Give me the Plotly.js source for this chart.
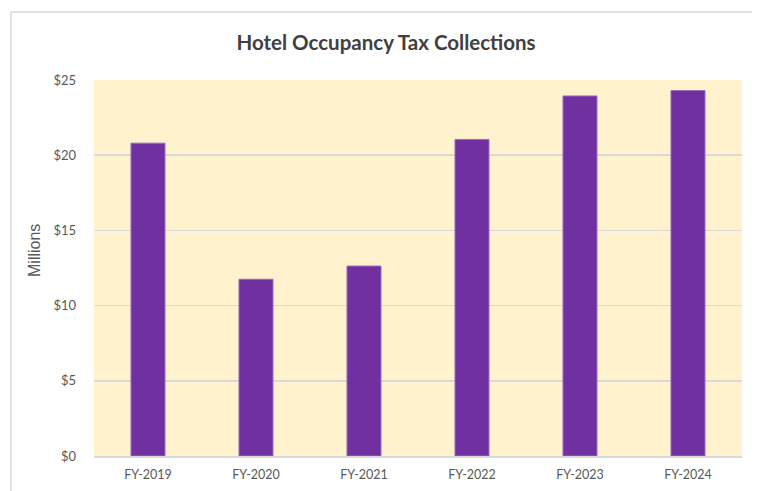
<!DOCTYPE html>
<html><head><meta charset="utf-8">
<script src="https://cdn.plot.ly/plotly-3.0.1.min.js"></script>
<style>html,body{margin:0;padding:0;background:#fff}#chart{width:757px;height:491px}</style>
</head><body><div id="chart"></div>
<script>
const categories = ["FY-2019","FY-2020","FY-2021","FY-2022","FY-2023","FY-2024"];
const collections = [20.8, 11.75, 12.63, 21.05, 23.94, 24.3];
const yTickVals = [0,5,10,15,20,25];
const yTickText = ["$0","$5","$10","$15","$20","$25"];

const L=94,R=15,T=80,B=35,W=757,H=491;
const pw=W-L-R, ph=H-T-B;
const px = x => (x-L)/pw, py = y => (H-B-y)/ph;

Plotly.newPlot('chart', [{
  type:'bar', x:categories, y:collections,
  marker:{color:'#7030A0', line:{color:'#9a6cc0', width:1}},
  hoverinfo:'x+y'
}], {
  width:W, height:H,
  margin:{l:L,r:R,t:T,b:B,pad:0},
  paper_bgcolor:'#ffffff', plot_bgcolor:'#FFF2CC',
  bargap:0.685,
  font:{family:'Lato, "Open Sans", sans-serif', color:'#595959', size:12.5},
  title:{text:'<b>Hotel Occupancy Tax Collections</b>', font:{family:'Lato, "Open Sans", sans-serif', size:20.5, color:'#404040'}, x:0.51, xanchor:'center', y:1-43/H, yanchor:'middle'},
  xaxis:{showgrid:false, showline:true, linecolor:'#d9d9d9', linewidth:1.5, ticks:'', tickfont:{size:12.5,color:'#595959'}, ticklabelstandoff:6},
  yaxis:{range:[0,25], tickvals:yTickVals, ticktext:yTickText, showgrid:true, gridcolor:'#d9d9d9', gridwidth:1.5, zeroline:false, showline:false, ticks:'', tickfont:{size:13,color:'#595959'}, ticklabelstandoff:17},
  annotations:[{text:'Millions', xref:'paper', yref:'paper', x:px(34), y:py(251), textangle:-90, showarrow:false, font:{family:'"Liberation Sans", Arial, sans-serif', size:16, color:'#595959'}, xanchor:'center', yanchor:'middle'}],
  shapes:[
    {type:'line', xref:'paper', yref:'paper', x0:px(11), x1:px(11), y0:py(495), y1:py(12), line:{color:'#d9d9d9', width:1.5}},
    {type:'line', xref:'paper', yref:'paper', x0:px(11), x1:px(752), y0:py(12), y1:py(12), line:{color:'#d9d9d9', width:1.5}}
  ],
  showlegend:false
}, {displayModeBar:false, staticPlot:true});
</script></body></html>
